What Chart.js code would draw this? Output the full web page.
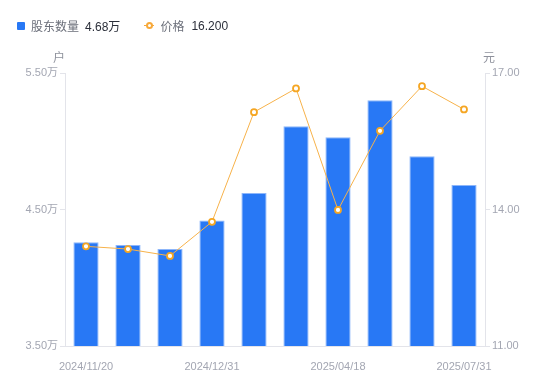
<!DOCTYPE html>
<html>
<head>
<meta charset="utf-8">
<script src="https://cdn.jsdelivr.net/npm/chart.js@4/dist/chart.umd.min.js"></script>
<style>
  html, body { margin: 0; padding: 0; background: #fff; }
  #wrap { position: relative; width: 550px; height: 381px; }
  #legend { position: absolute; left: 17px; top: 17px; font: 12px "Liberation Sans", "Noto Sans CJK SC", sans-serif; color: #6b6f7a; display: flex; align-items: center; }
  .item { display: flex; align-items: center; margin-right: 24px; }
  .sq { width: 8px; height: 8px; background: #2878f5; border-radius: 1px; margin-right: 6px; }
  .ln { position: relative; width: 10px; height: 9px; margin-right: 6px; }
  .ln:before { content: ""; position: absolute; left: 0; right: 0; top: 4px; height: 1px; background: #f7a93a; }
  .ln:after { content: ""; position: absolute; left: 2px; top: 1px; width: 3px; height: 3px; border: 2px solid #f7a93a; border-radius: 50%; background: #fff; }
  .val { color: #2b2f3a; margin-left: 6px; }
  .val2 { margin-left: 7px; }
</style>
</head>
<body>
<div id="wrap">
  <canvas id="myChart" width="550" height="381"></canvas>
  <div id="legend"></div>
</div>
<script>
var dates = ["2024/11/20", "2024/11/29", "2024/12/10", "2024/12/31", "2025/01/20", "2025/03/31", "2025/04/18", "2025/05/20", "2025/06/30", "2025/07/31"];
var holders = [4.26, 4.24, 4.21, 4.42, 4.62, 5.11, 5.03, 5.30, 4.89, 4.68]; // 万户
var prices = [13.19, 13.13, 12.98, 13.73, 16.14, 16.66, 13.99, 15.73, 16.71, 16.20];
var shownLabels = [0, 3, 6, 9];
var leftTicks = [3.5, 5.5];
var rightTicks = [11, 17];

var tickFont = { family: "'Liberation Sans', 'Noto Sans CJK SC', sans-serif", size: 11 };
var tickColor = "#a3a6b2";
var lineColor = "#e3e4ea";

document.getElementById("legend").innerHTML =
  '<div class="item"><span class="sq"></span>股东数量<span class="val">' + holders[holders.length - 1].toFixed(2) + '万</span></div>' +
  '<div class="item"><span class="ln"></span>价格<span class="val val2">' + prices[prices.length - 1].toFixed(3) + '</span></div>';

var unitTitles = {
  id: "unitTitles",
  afterDraw: function(chart) {
    var c = chart.ctx;
    c.save();
    c.font = "12px 'Noto Sans CJK SC', sans-serif";
    c.fillStyle = "#8e919c";
    c.textBaseline = "middle";
    c.textAlign = "center";
    c.fillText("户", chart.scales.y.right - 6, 57);
    c.fillText("元", chart.scales.y1.left + 4, 57);
    c.restore();
  }
};

var ctx = document.getElementById("myChart").getContext("2d");
var myChart = new Chart(ctx, {
  type: "bar",
  data: {
    labels: dates,
    datasets: [
      {
        type: "line",
        label: "价格",
        data: prices,
        yAxisID: "y1",
        borderColor: "#f7b24a",
        borderWidth: 1,
        pointRadius: 3,
        pointBorderWidth: 1.8,
        pointBorderColor: "#f5a623",
        pointBackgroundColor: "#fff",
        tension: 0,
        order: 0
      },
      {
        label: "股东数量",
        data: holders,
        yAxisID: "y",
        backgroundColor: "#2878f5",
        borderColor: "#8db6fa",
        borderWidth: { top: 1, left: 1, right: 1, bottom: 0 },
        borderSkipped: false,
        barPercentage: 0.6,
        categoryPercentage: 1,
        order: 1
      }
    ]
  },
  options: {
    responsive: false,
    animation: false,
    layout: { padding: { top: 73, bottom: 0, left: 0, right: 0 } },
    plugins: { legend: { display: false }, tooltip: { enabled: false } },
    scales: {
      x: {
        grid: { display: false },
        border: { color: lineColor },
        afterFit: function(s) { s.height = 35; },
        ticks: {
          autoSkip: false,
          maxRotation: 0,
          padding: 6,
          color: tickColor,
          font: tickFont,
          callback: function(v, i) { return shownLabels.indexOf(i) >= 0 ? dates[i] : ""; }
        }
      },
      y: {
        position: "left",
        min: leftTicks[0],
        max: leftTicks[1],
        afterFit: function(s) { s.width = 65; },
        grid: { drawOnChartArea: false, drawTicks: true, tickLength: 5, color: lineColor },
        border: { color: lineColor },
        ticks: {
          stepSize: 1,
          padding: 2,
          color: tickColor,
          font: tickFont,
          callback: function(v) { return v.toFixed(2) + "万"; }
        }
      },
      y1: {
        position: "right",
        min: rightTicks[0],
        max: rightTicks[1],
        afterFit: function(s) { s.width = 65; },
        grid: { drawOnChartArea: false, drawTicks: true, tickLength: 5, color: lineColor },
        border: { color: lineColor },
        ticks: {
          stepSize: 3,
          padding: 2,
          color: tickColor,
          font: tickFont,
          callback: function(v) { return v.toFixed(2); }
        }
      }
    }
  },
  plugins: [unitTitles]
});
</script>
</body>
</html>
